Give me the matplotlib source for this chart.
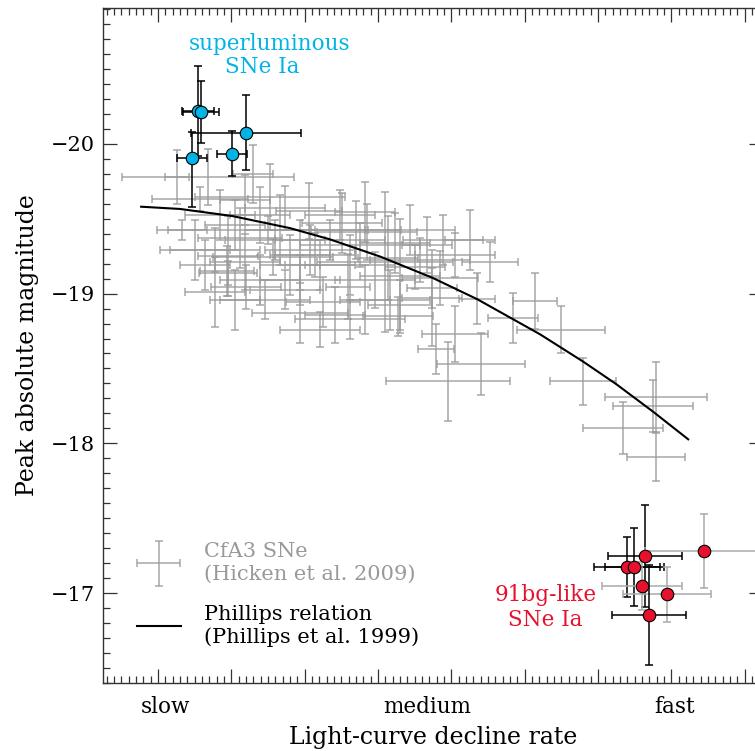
import matplotlib.pyplot as plt
from matplotlib.ticker import MultipleLocator, NullFormatter
from matplotlib.legend_handler import HandlerErrorbar
from matplotlib.container import ErrorbarContainer

plt.rcParams['font.family'] = ['DejaVu Serif']

# CfA3 SNe Ia (Hicken et al. 2009): decline rate, peak magnitude and errors
cfa_dm15 = [0.936, 0.852, 1.059, 0.915, 1.106, 1.212, 0.865, 1.100, 1.024, 0.991,
            0.991, 0.988, 1.114, 1.040, 1.188, 1.160, 1.250, 1.319, 1.302, 1.340,
            1.370, 1.419, 1.428, 1.460, 1.501, 1.534, 1.548, 1.460, 1.455, 1.578,
            1.706, 1.548, 1.570, 1.671, 1.829, 1.769, 1.611, 1.559, 1.681, 1.591,
            1.900, 1.960, 2.159, 2.151, 2.069, 2.159, 1.269, 1.215, 1.078, 1.147,
            0.969, 0.901, 0.956, 1.092, 1.242, 1.351, 1.392, 1.324, 1.488, 1.611,
            1.651, 1.283, 1.188, 1.037, 1.133, 1.242, 1.447, 1.365, 1.010, 1.515,
            0.956, 1.037, 1.119, 1.188, 1.078, 1.010, 1.147, 1.297, 1.365, 1.228,
            0.928, 1.324, 1.433]
cfa_dm15_err = [0.235, 0.033, 0.055, 0.131, 0.205, 0.090, 0.068, 0.273, 0.115, 0.082,
                0.079, 0.074, 0.164, 0.096, 0.131, 0.082, 0.101, 0.060, 0.109, 0.123,
                0.136, 0.186, 0.082, 0.109, 0.082, 0.068, 0.082, 0.087, 0.096, 0.109,
                0.076, 0.068, 0.104, 0.049, 0.060, 0.068, 0.090, 0.049, 0.120, 0.169,
                0.120, 0.090, 0.139, 0.109, 0.109, 0.079, 0.150, 0.123, 0.082, 0.109,
                0.096, 0.096, 0.082, 0.123, 0.109, 0.164, 0.109, 0.123, 0.123, 0.109,
                0.068, 0.082, 0.109, 0.068, 0.096, 0.096, 0.096, 0.068, 0.082, 0.136,
                0.123, 0.096, 0.136, 0.082, 0.109, 0.068, 0.096, 0.096, 0.082, 0.109,
                0.068, 0.150, 0.109]
cfa_mag = [-19.780, -19.780, -19.800, -19.633, -19.647, -19.553, -19.427, -19.427, -19.373, -19.253,
           -19.140, -19.153, -19.247, -19.047, -18.873, -19.193, -18.947, -19.047, -19.473, -19.427,
           -19.413, -19.213, -19.240, -19.120, -19.180, -19.327, -18.973, -18.927, -18.847, -19.360,
           -19.213, -19.040, -19.107, -18.967, -18.953, -18.840, -18.733, -18.633, -18.533, -18.413,
           -18.760, -18.413, -18.307, -18.247, -18.100, -17.907, -19.360, -19.293, -19.527, -19.573,
           -19.527, -19.293, -19.013, -18.960, -18.760, -19.327, -19.093, -19.193, -19.427, -19.260,
           -19.360, -18.860, -19.093, -19.627, -19.427, -19.193, -19.340, -18.960, -19.460, -19.227,
           -19.293, -19.213, -19.360, -19.260, -19.093, -18.960, -19.027, -19.527, -19.547, -19.260,
           -19.193, -18.827, -18.960]
cfa_mag_err = [0.187, 0.180, 0.193, 0.080, 0.220, 0.187, 0.067, 0.093, 0.200, 0.267,
               0.080, 0.167, 0.120, 0.147, 0.200, 0.200, 0.167, 0.220, 0.200, 0.193,
               0.187, 0.467, 0.280, 0.380, 0.147, 0.187, 0.320, 0.167, 0.133, 0.167,
               0.133, 0.133, 0.180, 0.173, 0.187, 0.167, 0.187, 0.167, 0.207, 0.267,
               0.160, 0.160, 0.233, 0.173, 0.173, 0.160, 0.133, 0.167, 0.187, 0.147,
               0.167, 0.200, 0.233, 0.133, 0.120, 0.147, 0.187, 0.200, 0.167, 0.147,
               0.200, 0.187, 0.167, 0.167, 0.233, 0.167, 0.200, 0.233, 0.167, 0.147,
               0.147, 0.187, 0.133, 0.233, 0.167, 0.200, 0.133, 0.167, 0.200, 0.147,
               0.167, 0.133, 0.200]

# Phillips et al. (1999) relation
phil_dm15 = [0.754, 0.860, 1.002, 1.160, 1.269, 1.406, 1.548, 1.671, 1.842, 1.960, 2.050, 2.151, 2.246]
phil_mag = [-19.580, -19.565, -19.518, -19.437, -19.362, -19.247, -19.106, -18.962, -18.728,
            -18.545, -18.395, -18.210, -18.027]

# superluminous SNe Ia
sl_dm15 = [0.909, 0.917, 0.893, 1.040, 1.002]
sl_dm15_err = [0.044, 0.050, 0.040, 0.150, 0.040]
sl_mag = [-20.220, -20.213, -19.907, -20.073, -19.933]
sl_mag_err_bright = [0.300, 0.207, 0.170, 0.250, 0.150]
sl_mag_err_faint = [0.300, 0.207, 0.330, 0.250, 0.150]

# 91bg-like SNe Ia (last flag: also in the CfA3 sample)
bg_dm15 = [2.129, 2.080, 2.099, 2.121, 2.189, 2.290, 2.140]
bg_dm15_err = [0.101, 0.090, 0.080, 0.109, 0.120, 0.161, 0.101]
bg_mag = [-17.247, -17.173, -17.173, -17.047, -16.993, -17.280, -16.853]
bg_mag_err = [0.340, 0.200, 0.260, 0.160, 0.183, 0.247, 0.333]
bg_in_cfa = [False, False, False, True, True, True, False]

cyan = '#00b4e6'
red = '#e8112d'
gray = '#999999'

fig = plt.figure(figsize=(7.55, 7.51), dpi=100)
ax = fig.add_axes([103 / 755, 68 / 751, 660 / 755, 675 / 751])

cfa = ax.errorbar(cfa_dm15, cfa_mag, xerr=cfa_dm15_err, yerr=cfa_mag_err, fmt='none',
                  ecolor=gray, elinewidth=1.1, capsize=3, capthick=1.1, alpha=0.85,
                  label='CfA3 SNe\n(Hicken et al. 2009)', zorder=1)
phil, = ax.plot(phil_dm15, phil_mag, color='black', lw=1.5, zorder=2,
                label='Phillips relation\n(Phillips et al. 1999)')

ax.errorbar(sl_dm15, sl_mag, xerr=sl_dm15_err, yerr=[sl_mag_err_bright, sl_mag_err_faint],
            fmt='none', ecolor='black', elinewidth=1.1, capsize=3, capthick=1.1, zorder=3)
ax.plot(sl_dm15, sl_mag, 'o', ms=9, mfc=cyan, mec='black', mew=0.8, zorder=4)

for x, xe, y, ye, shared in zip(bg_dm15, bg_dm15_err, bg_mag, bg_mag_err, bg_in_cfa):
    ax.errorbar(x, y, xerr=xe, yerr=ye, fmt='none', ecolor='#aaaaaa' if shared else 'black',
                elinewidth=1.1, capsize=3, capthick=1.1, zorder=3)
ax.plot(bg_dm15, bg_mag, 'o', ms=9, mfc=red, mec='black', mew=0.8, zorder=4)

ax.set_xlim(0.65, 2.45)
ax.set_ylim(-16.4, -20.9067)
ax.xaxis.set_major_locator(MultipleLocator(0.2))
ax.xaxis.set_minor_locator(MultipleLocator(0.02))
ax.xaxis.set_major_formatter(NullFormatter())
ax.yaxis.set_major_locator(MultipleLocator(1))
ax.yaxis.set_minor_locator(MultipleLocator(0.1))
ax.yaxis.set_major_formatter(lambda v, p: f'\u2212{abs(v):.0f}')
ax.tick_params(which='both', direction='in', top=True, right=True, width=0.9, color='#333333')
ax.tick_params(which='major', length=10, labelsize=15, pad=6)
ax.tick_params(which='minor', length=5)
for sp in ax.spines.values():
    sp.set_linewidth(1.0)
    sp.set_color('#333333')

for pos, txt in [(0.82, 'slow'), (1.535, 'medium'), (2.21, 'fast')]:
    ax.text(pos, -0.0445, txt, transform=ax.get_xaxis_transform(), ha='center',
            va='baseline', fontsize=15.5)

ax.set_xlabel('Light-curve decline rate', fontsize=17)
ax.xaxis.set_label_coords(0.5, -0.063)
ax.set_ylabel('Peak absolute magnitude', fontsize=17)
ax.yaxis.set_label_coords(-0.097, 0.5)

ax.text(0.253, 0.938, 'superluminous', transform=ax.transAxes, ha='center',
        va='baseline', color=cyan, fontsize=15.5)
ax.text(0.241, 0.904, 'SNe Ia', transform=ax.transAxes, ha='center',
        va='baseline', color=cyan, fontsize=15.5)
ax.text(0.670, 0.1215, '91bg-like', transform=ax.transAxes, ha='center',
        va='baseline', color=red, fontsize=15.5)
ax.text(0.670, 0.0844, 'SNe Ia', transform=ax.transAxes, ha='center',
        va='baseline', color=red, fontsize=15.5)

leg = ax.legend(handles=[cfa, phil], loc='lower left', bbox_to_anchor=(0.0515, 0.053),
                frameon=False, fontsize=15, borderpad=0, borderaxespad=0,
                handlelength=2.1, handletextpad=1.1, labelspacing=1.0,
                handler_map={ErrorbarContainer: HandlerErrorbar(xerr_size=1.03, yerr_size=1.08)})
texts = leg.get_texts()
texts[0].set_color(gray)
for t in texts:
    t.set_linespacing(1.25)

fig.savefig('out.png', dpi=100)
